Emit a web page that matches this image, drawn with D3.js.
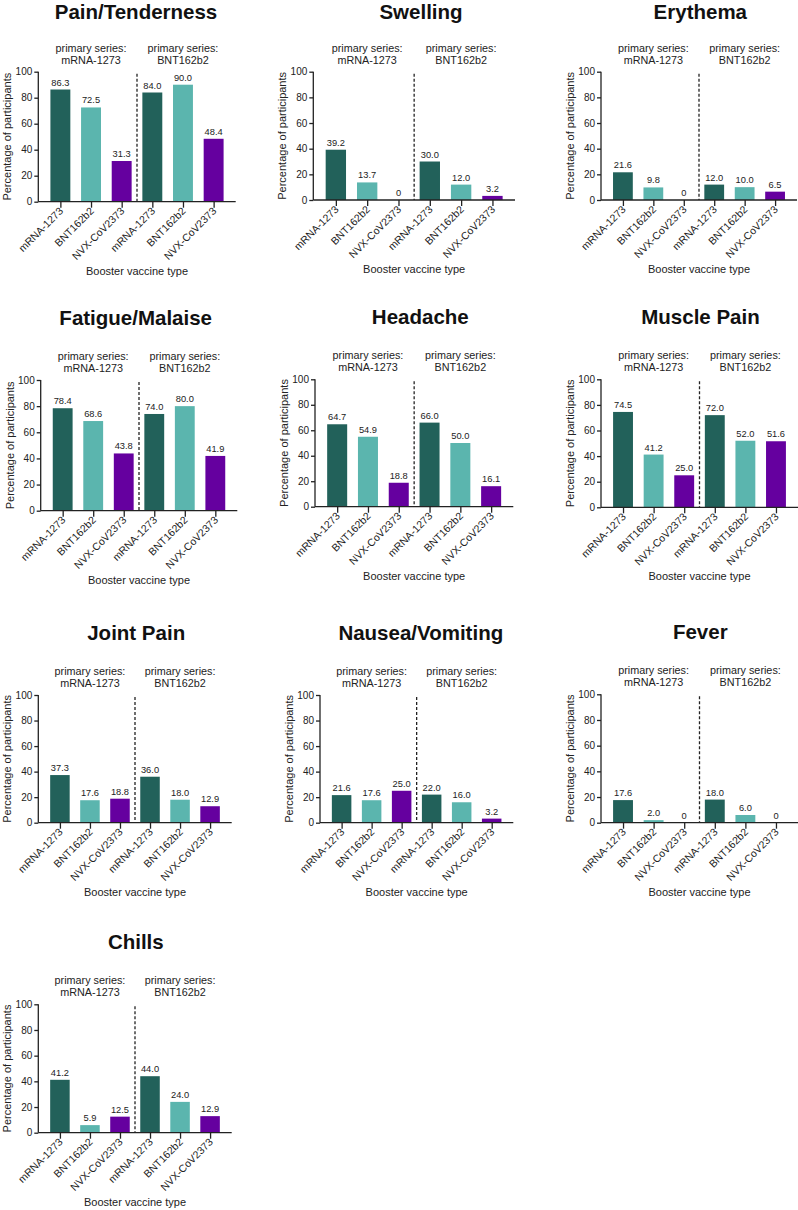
<!DOCTYPE html>
<html>
<head>
<meta charset="utf-8">
<script src="https://cdn.jsdelivr.net/npm/d3@7"></script>
<style>
  html, body { margin: 0; padding: 0; background: #fff; }
  svg { display: block; font-family: "Liberation Sans", Arial, Helvetica, sans-serif; }
</style>
</head>
<body>
<svg id="chart" width="798" height="1210"></svg>
<script>
// ---- data ----
const symptoms = ["Pain/Tenderness", "Swelling", "Erythema", "Fatigue/Malaise", "Headache",
                  "Muscle Pain", "Joint Pain", "Nausea/Vomiting", "Fever", "Chills"];
const boosterTypes = ["mRNA-1273", "BNT162b2", "NVX-CoV2373"];
const primarySeries = ["mRNA-1273", "BNT162b2"];
const yTicks = [0, 20, 40, 60, 80, 100];

const painValues     = [86.3, 72.5, 31.3, 84.0, 90.0, 48.4];
const swellingValues = [39.2, 13.7, 0, 30.0, 12.0, 3.2];
const erythemaValues = [21.6, 9.8, 0, 12.0, 10.0, 6.5];
const fatigueValues  = [78.4, 68.6, 43.8, 74.0, 80.0, 41.9];
const headacheValues = [64.7, 54.9, 18.8, 66.0, 50.0, 16.1];
const muscleValues   = [74.5, 41.2, 25.0, 72.0, 52.0, 51.6];
const jointValues    = [37.3, 17.6, 18.8, 36.0, 18.0, 12.9];
const nauseaValues   = [21.6, 17.6, 25.0, 22.0, 16.0, 3.2];
const feverValues    = [17.6, 2.0, 0, 18.0, 6.0, 0];
const chillsValues   = [41.2, 5.9, 12.5, 44.0, 24.0, 12.9];

const allValues = [painValues, swellingValues, erythemaValues, fatigueValues, headacheValues,
                   muscleValues, jointValues, nauseaValues, feverValues, chillsValues];

// ---- layout (pixel placement of each panel: axis left, axis right, y=100, y=0, title centre) ----
const panelLayout = [
  [38.3, 235.7, 71.7, 201.7, 136],
  [313.3, 515, 71.7, 200, 421],
  [601, 797, 71.7, 200, 700.3],
  [40.7, 237.3, 380, 510.7, 135.7],
  [315, 513.3, 379.3, 506.7, 420.3],
  [601, 798, 379.3, 507.3, 700.5],
  [38.3, 231.7, 695, 822.7, 136.2],
  [320, 513.3, 695, 822.7, 420.8],
  [601, 798, 694.3, 822.7, 700.3],
  [38.3, 231.7, 1004.3, 1132.7, 135.8]
];

const colors = ["#22615a", "#5bb5ae", "#65009f"];
const axisColor = "#222";
const textColor = "#222";

const svg = d3.select("#chart");

symptoms.forEach((name, pi) => {
  const [x0, x1, yTop, yBot, titleX] = panelLayout[pi];
  const vals = allValues[pi];
  const cats = [];
  primarySeries.forEach((p, gi) => boosterTypes.forEach((b, bi) => cats.push({key: gi + "-" + bi, label: b, gi, bi})));
  const data = cats.map((c, i) => ({...c, value: vals[i]}));

  const x = d3.scalePoint().domain(cats.map(c => c.key)).range([x0, x1]).padding(0.72);
  const y = d3.scaleLinear().domain([0, 100]).range([yBot, yTop]);
  const bw = x.step() * 0.65;

  const g = svg.append("g");

  // title
  g.append("text").attr("x", titleX).attr("y", Math.max(yTop - 55, 19))
    .attr("text-anchor", "middle").attr("font-size", 20.5).attr("font-weight", "bold")
    .attr("fill", "#111").text(name);

  // primary series labels
  primarySeries.forEach((p, gi) => {
    const cx = x(gi + "-1");
    const t = g.append("text").attr("text-anchor", "middle").attr("font-size", 10.8).attr("fill", textColor);
    t.append("tspan").attr("x", cx).attr("y", yTop - 20).text("primary series:");
    t.append("tspan").attr("x", cx).attr("y", yTop - 8).text(p);
  });

  // bars
  g.selectAll("rect.bar").data(data).join("rect")
    .attr("x", d => x(d.key) - bw / 2)
    .attr("y", d => y(d.value))
    .attr("width", bw)
    .attr("height", d => yBot - y(d.value))
    .attr("fill", d => colors[d.bi]);

  // value labels
  g.selectAll("text.val").data(data).join("text")
    .attr("x", d => x(d.key))
    .attr("y", d => y(d.value) - 4)
    .attr("text-anchor", "middle").attr("font-size", 9.3).attr("fill", textColor)
    .text(d => d.value === 0 ? "0" : d.value.toFixed(1));

  // dashed separator
  const sepX = (x("0-2") + x("1-0")) / 2;
  g.append("line").attr("x1", sepX).attr("x2", sepX).attr("y1", yTop + 2).attr("y2", yBot)
    .attr("stroke", axisColor).attr("stroke-width", 1.3).attr("stroke-dasharray", "3,2");

  // y axis
  const yAxis = g.append("g").attr("transform", `translate(${x0},0)`)
    .call(d3.axisLeft(y).tickValues(yTicks).tickSize(4).tickPadding(2));
  yAxis.select(".domain").attr("stroke", axisColor).attr("stroke-width", 1.3).attr("d", `M0,${yTop}V${yBot}`);
  yAxis.selectAll(".tick line").attr("stroke", axisColor).attr("stroke-width", 1.3);
  yAxis.selectAll(".tick text").attr("font-size", 10).attr("fill", textColor)
    .attr("font-family", "Liberation Sans, Arial, sans-serif");

  // x axis
  const xAxis = g.append("g").attr("transform", `translate(0,${yBot})`)
    .call(d3.axisBottom(x).tickSize(6).tickFormat(k => cats.find(c => c.key === k).label));
  xAxis.select(".domain").attr("stroke", axisColor).attr("stroke-width", 1.3).attr("d", `M${x0},0H${x1}`);
  xAxis.selectAll(".tick line").attr("stroke", axisColor).attr("stroke-width", 1.3);
  xAxis.selectAll(".tick text")
    .attr("font-size", 10.5).attr("fill", textColor)
    .attr("font-family", "Liberation Sans, Arial, sans-serif")
    .attr("text-anchor", "end")
    .attr("dy", null)
    .attr("y", 0)
    .attr("transform", "translate(3,10) rotate(-45)");

  // axis titles
  g.append("text")
    .attr("transform", `translate(${x0 - 27},${(yTop + yBot) / 2}) rotate(-90)`)
    .attr("text-anchor", "middle").attr("font-size", 11).attr("fill", textColor)
    .text("Percentage of participants");
  g.append("text").attr("x", sepX).attr("y", yBot + 73)
    .attr("text-anchor", "middle").attr("font-size", 11).attr("fill", textColor)
    .text("Booster vaccine type");
});
</script>
</body>
</html>
